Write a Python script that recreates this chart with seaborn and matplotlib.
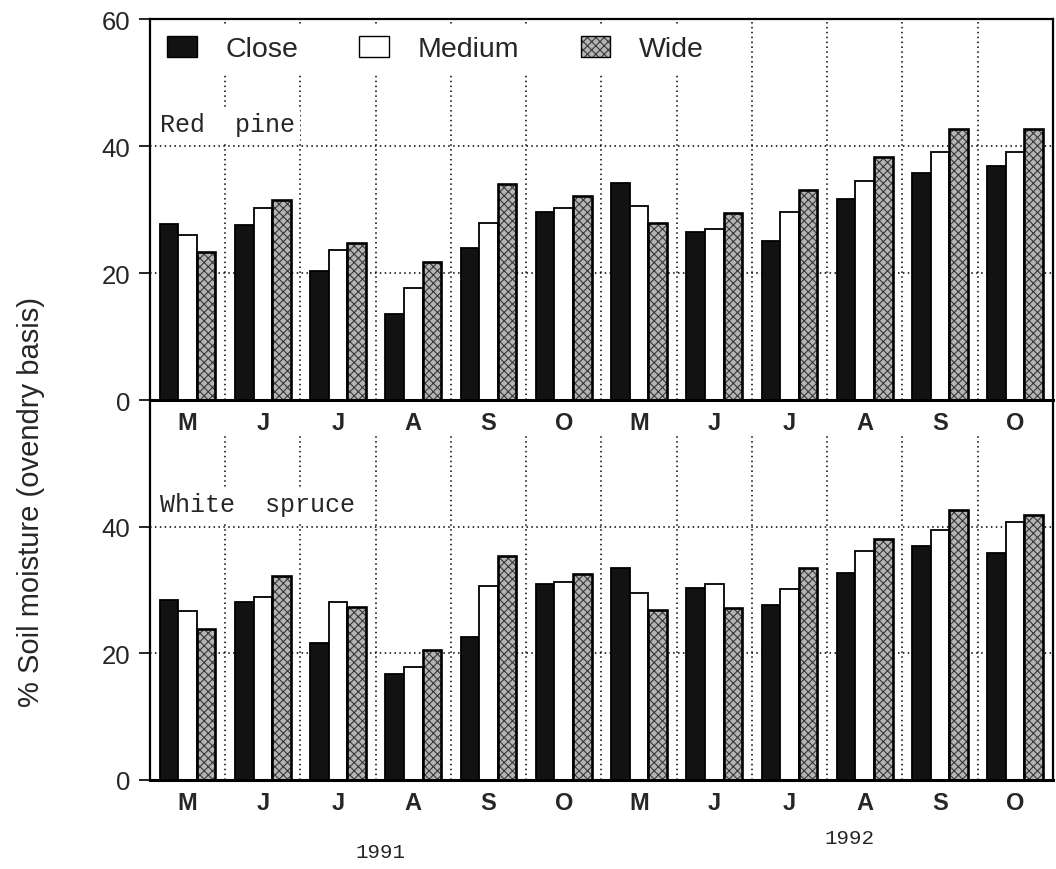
import numpy as np
import pandas as pd
import matplotlib
matplotlib.use("Agg")
import matplotlib.pyplot as plt
import matplotlib.transforms as mtransforms
from matplotlib.patches import Patch
import seaborn as sns

# ---------------- data ----------------
months = ["M", "J", "J", "A", "S", "O"]
years = ["1991", "1992"]
spacings = ["Close", "Medium", "Wide"]

red_pine_close = [27.7, 27.5, 20.4, 13.5, 23.9, 29.6, 34.2, 26.5, 25.1, 31.6, 35.8, 36.8]
red_pine_medium = [26.0, 30.2, 23.6, 17.7, 27.9, 30.2, 30.5, 27.0, 29.6, 34.5, 39.1, 39.1]
red_pine_wide = [23.3, 31.5, 24.8, 21.8, 34.0, 32.2, 27.9, 29.5, 33.1, 38.2, 42.7, 42.7]

white_spruce_close = [28.4, 28.1, 21.6, 16.7, 22.5, 31.0, 33.4, 30.3, 27.7, 32.7, 37.0, 35.9]
white_spruce_medium = [26.7, 28.9, 28.1, 17.8, 30.7, 31.3, 29.6, 30.9, 30.1, 36.1, 39.4, 40.8]
white_spruce_wide = [23.9, 32.2, 27.3, 20.6, 35.3, 32.5, 26.9, 27.1, 33.5, 38.1, 42.7, 41.9]

panel_titles = ["Red  pine", "White  spruce"]
y_label = "% Soil moisture (ovendry basis)"

# ---------------- style ----------------
sns.set_theme(style="white")
plt.rcParams["font.family"] = ["Liberation Sans", "DejaVu Sans"]
plt.rcParams["hatch.linewidth"] = 0.8

periods = [f"{y}-{i}-{m}" for y in years for i, m in enumerate(months)]
month_labels = [m for y in years for m in months]
colors = {"Close": "#121212", "Medium": "#ffffff", "Wide": "#b4b4b4"}
WIDE_HATCH = "xxxx"
HATCH_COLOR = (0.22, 0.22, 0.22, 1.0)
MONO = ["Liberation Mono", "DejaVu Sans Mono"]

fig = plt.figure(figsize=(10.56, 8.70), dpi=100)
ax1 = fig.add_axes([0.142, 0.539, 0.855, 0.438])
ax2 = fig.add_axes([0.142, 0.1023, 0.855, 0.4368])
ax1.set_zorder(3)
ax2.set_zorder(1)

dot = (0, (1, 2.2))


def set_hatch_color(p):
    try:
        p.set_hatchcolor(HATCH_COLOR)
    except AttributeError:
        p._hatch_color = HATCH_COLOR


def draw_panel(ax, close, medium, wide, yticks, title, title_y):
    df = pd.DataFrame({
        "period": periods * 3,
        "spacing": np.repeat(spacings, len(periods)),
        "moisture": close + medium + wide,
    })
    sns.barplot(data=df, x="period", y="moisture", hue="spacing",
                order=periods, hue_order=spacings, palette=colors,
                width=0.74, saturation=1, errorbar=None, legend=False,
                edgecolor="black", linewidth=1.3, ax=ax)
    for p in ax.containers[2]:
        p.set_hatch(WIDE_HATCH)
        p.set_linewidth(1.9)
        set_hatch_color(p)
    ax.set_xlim(-0.5, len(periods) - 0.5)
    ax.set_ylim(0, 60)
    ax.set_yticks(yticks)
    ax.set_yticklabels([str(t) for t in yticks], fontsize=18.5)
    ax.set_xticks(range(len(periods)))
    ax.set_xticklabels(month_labels, fontsize=17, fontweight="bold")
    ax.set_xticks(np.arange(-0.5, len(periods), 1), minor=True)
    ax.tick_params(axis="x", which="major", length=0, pad=8)
    ax.tick_params(axis="x", which="minor", direction="inout", length=12,
                   width=1.2, color="black")
    ax.tick_params(axis="y", which="major", direction="out", length=8,
                   width=1.2, color="black", pad=6, left=True)
    ax.set_axisbelow(True)
    ax.yaxis.grid(True, which="major", linestyle=dot, color="black", linewidth=1.1)
    ax.xaxis.grid(True, which="minor", linestyle=dot, color="black", linewidth=1.1)
    ax.xaxis.grid(False, which="major")
    ax.set_xlabel("")
    ax.set_ylabel("")
    for s in ax.spines.values():
        s.set_color("black")
        s.set_linewidth(1.6)
    ax.spines["bottom"].set_linewidth(2.2)
    ax.text(-0.36, title_y, title, family=MONO,
            fontsize=18, va="center", ha="left", zorder=4,
            bbox=dict(facecolor="white", edgecolor="none", pad=3))


draw_panel(ax1, red_pine_close, red_pine_medium, red_pine_wide,
           [0, 20, 40, 60], panel_titles[0], 43.4)
draw_panel(ax2, white_spruce_close, white_spruce_medium, white_spruce_wide,
           [0, 20, 40], panel_titles[1], 43.5)
ax2.spines["top"].set_visible(False)
# blank band under the top panel's month labels
ax2.axhspan(54.6, 60, color="white", zorder=0.8, linewidth=0)

# legend
handles = [
    Patch(facecolor=colors["Close"], edgecolor="black", linewidth=1.0),
    Patch(facecolor=colors["Medium"], edgecolor="black", linewidth=1.0),
    Patch(facecolor=colors["Wide"], edgecolor="black", linewidth=1.0, hatch=WIDE_HATCH),
]
leg = ax1.legend(handles, spacings, loc="upper left", bbox_to_anchor=(0.0, 1.0),
                 ncol=3, frameon=True, facecolor="white", edgecolor="none",
                 framealpha=1, fontsize=20.5, handlelength=1.05, handleheight=0.75,
                 handletextpad=1.0, columnspacing=2.15, borderaxespad=0.2,
                 borderpad=0.4, fancybox=False)
leg.set_zorder(5)
for h in leg.legend_handles:
    if h.get_hatch():
        set_hatch_color(h)

# year labels
trans = mtransforms.blended_transform_factory(ax2.transData, ax2.transAxes)
ax2.text(2.56, -0.187, years[0], transform=trans, ha="center", va="center",
         family=MONO, fontsize=15)
ax2.text(8.8, -0.152, years[1], transform=trans, ha="center", va="center",
         family=MONO, fontsize=15)

fig.text(0.029, 0.423, y_label, rotation=90, ha="center", va="center", fontsize=21)

fig.savefig("out.png", dpi=100)
